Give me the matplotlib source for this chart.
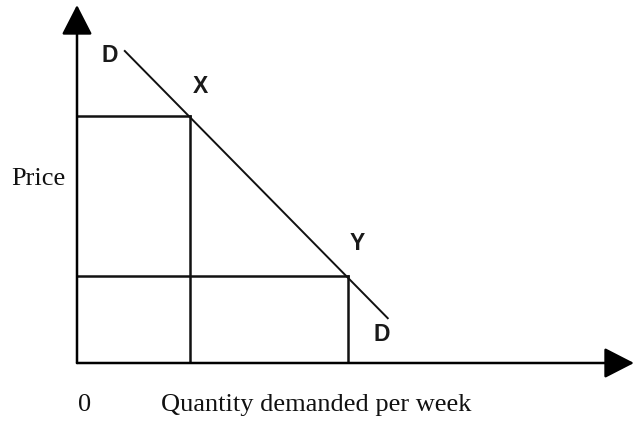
import matplotlib.pyplot as plt

# demand curve end points (quantity, price)
demand_q = [1.18, 7.8]
demand_p = [7.8, 1.1]

# the two marked points on the curve
point_names = ['X', 'Y']
point_q = [2.83, 6.78]
point_p = [6.15, 2.18]

x_max = 13.95
y_max = 8.93

fig = plt.figure(figsize=(6.34, 4.21), dpi=100)
fig.patch.set_facecolor('white')
ax = fig.add_axes([77 / 634, (421 - 363) / 421, (634 - 77) / 634, (363 - 5) / 421])
ax.set_xlim(0, x_max)
ax.set_ylim(0, y_max)
ax.set_axis_off()

# axes with arrow heads
head = '-|>,head_length=1.85,head_width=0.95'
ax.annotate('', xy=(x_max, 0), xytext=(0, 0),
            arrowprops=dict(arrowstyle=head, color='black', lw=1.8, shrinkA=0, shrinkB=0),
            annotation_clip=False)
ax.annotate('', xy=(0, y_max), xytext=(0, 0),
            arrowprops=dict(arrowstyle=head, color='black', lw=1.8, shrinkA=0, shrinkB=0),
            annotation_clip=False)

# demand curve
ax.plot(demand_q, demand_p, color='#111111', lw=1.4, solid_capstyle='butt')

# guide lines to the axes
for q, p in zip(point_q, point_p):
    ax.plot([0, q], [p, p], color='#111111', lw=1.8)
    ax.plot([q, q], [0, p], color='#111111', lw=1.8)

sans = dict(family='Liberation Sans', fontsize=16.5, fontweight='bold', color='#1a1a1a')
ax.text(0.83, 7.68, 'D', ha='center', va='center', **sans)
ax.text(7.63, 0.7, 'D', ha='center', va='center', **sans)
ax.text(3.1, 6.9, point_names[0], ha='center', va='center', **sans)
ax.text(7.03, 2.98, point_names[1], ha='center', va='center', **sans)

serif = dict(family='Liberation Serif', fontsize=19, color='#111111')
ax.text(-0.97, 4.6, 'Price', ha='center', va='center', **serif)
ax.text(0.18, -1.2, '0', ha='center', va='baseline', **serif)
ax.text(6.0, -1.2, 'Quantity demanded per week', ha='center', va='baseline', **serif)

fig.savefig('out.png', dpi=100, facecolor='white')
